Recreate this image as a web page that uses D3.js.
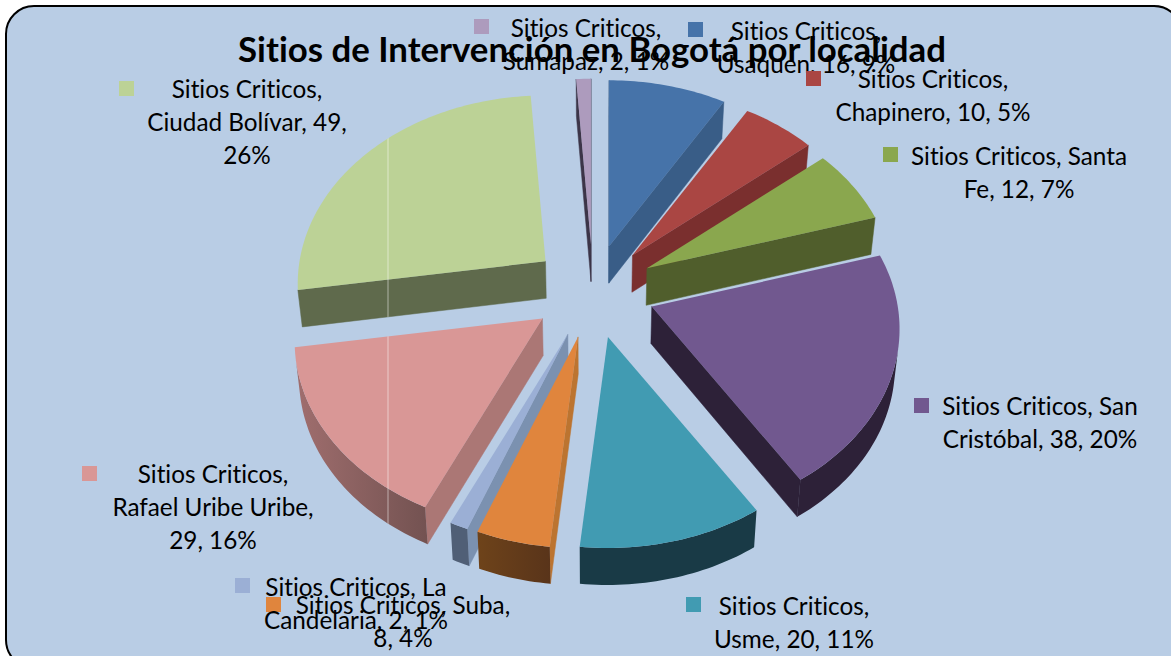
<!DOCTYPE html>
<html>
<head>
<meta charset="utf-8">
<script src="https://cdnjs.cloudflare.com/ajax/libs/d3/7.8.5/d3.min.js"></script>
<style>
  html, body { margin: 0; padding: 0; background: #fff; overflow: hidden; }
  text { font-family: Lato, "Open Sans", sans-serif; fill: #000; font-variant-ligatures: none; }
</style>
</head>
<body>
<div id="chart"></div>
<script>
// data, clockwise from 12 o'clock
const localidades = ["Usaquen", "Chapinero", "Santa Fe", "San Cristóbal", "Usme", "Suba", "La Candelaria", "Rafael Uribe Uribe", "Ciudad Bolívar", "Sumapaz"]
const sitios = [16, 10, 12, 38, 20, 8, 2, 29, 49, 2]
const porcentajes = [9, 5, 7, 20, 11, 4, 1, 16, 26, 1]
const serie = "Sitios Criticos"
const titulo = "Sitios de Intervención en Bogotá por localidad"

// word index where each label wraps
const cortes = [[2], [2], [3], [3], [2], [3], [3], [2, 5], [2, 5], [2]]

// colours
const caraColor = ["#4673a9", "#aa4643", "#8aa74e", "#71588f", "#419bb2", "#e0853d", "#9bafd5", "#d99796", "#bcd296", "#ad9bbd"]
const paredColor = ["#395d87", "#7a2f2e", "#505e2c", "#2d2138", "#193a46", "#bc7430", "#7b91b0", "#ab7775", "#5f6a4c", "#3c3548"]
const bordeIzq = ["#395d87", "#7a2f2e", "#505e2c", "#2d2138", "#193a46", "#6e431a", "#505f76", "#a06e6e", "#5f6a4c", "#3c3548"]
const bordeDer = ["#395d87", "#7a2f2e", "#505e2c", "#2d2138", "#193a46", "#59341a", "#505f76", "#735251", "#5f6a4c", "#3c3548"]

// label placement: [center x, first baseline], legend key [x, y]
const etiquetaPos = [[806, 40], [933, 88], [1019, 165], [1040, 415], [794, 615], [403, 614], [356, 596], [213, 483], [247, 98], [586, 37]]
const clavePos = [[688, 22], [806, 71], [883, 147], [914, 398], [686, 597], [266, 597], [235, 578], [82, 466], [119, 81], [474, 19]]

const width1 = 1171, height1 = 656
const cx = 593, cy = 290      // pie center on screen
const radio = d3.scaleLinear().domain([0, 1]).range([0, 246])
const explode = 62            // how far every slice is pulled out
const tilt = 0.755            // vertical squash of the 3d view
const persp = 0.12            // far side gets smaller
const depth = 37              // slice thickness
const encoge = 0.985          // bottom face converges a little

const svg = d3.select("#chart").append("svg")
  .attr("width", width1)
  .attr("height", height1)

const defs = svg.append("defs")

svg.append("rect")
  .attr("x", 6).attr("y", 6)
  .attr("width", 1176).attr("height", 662)
  .attr("rx", 28).attr("ry", 28)
  .attr("fill", "#b9cde5")
  .attr("stroke", "#000")
  .attr("stroke-width", 2)

// polar offset -> screen offset, perspective taken from its own length
function vector(ang, r) {
  const px = r * Math.sin(ang)
  const py = r * Math.cos(ang)
  const s = 1 / (1 + persp * py / radio(1))
  return [px * s, -tilt * py * s]
}
function proyecta(mid, ang, r) {
  const a = vector(mid, explode)
  const b = vector(ang, r)
  return [cx + a[0] + b[0], cy + a[1] + b[1]]
}
const abajo = p => [cx + (p[0] - cx) * encoge, p[1] + depth]

function area2(pts) {
  let a = 0
  pts.forEach((p, i) => {
    const q = pts[(i + 1) % pts.length]
    a += p[0] * q[1] - q[0] * p[1]
  })
  return a
}

const linea = d3.line().curve(d3.curveLinear)
const cierra = pts => linea(pts) + "Z"
const pie = d3.pie().sort(null).startAngle(0).endAngle(2 * Math.PI)
const arcos = pie(sitios)

const orden = arcos.map((d, i) => i)
  .sort((a, b) => {
    const ma = (arcos[a].startAngle + arcos[a].endAngle) / 2
    const mb = (arcos[b].startAngle + arcos[b].endAngle) / 2
    return Math.cos(mb) - Math.cos(ma)
  })

const seamX = 388 // thin light seam running through the left slices

orden.forEach(i => {
  const d = arcos[i]
  const mid = (d.startAngle + d.endAngle) / 2
  const g = svg.append("g").attr("class", "slice")

  const n = Math.max(2, Math.ceil((d.endAngle - d.startAngle) / 0.02))
  const angs = d3.range(n + 1).map(k => d.startAngle + (d.endAngle - d.startAngle) * k / n)
  const apice = proyecta(mid, 0, 0)
  const rim = angs.map(a => proyecta(mid, a, radio(1)))
  const todos = []

  // straight walls
  const walls = [[apice, rim[0]], [rim[n], apice]]
  walls.forEach(w => {
    const q = [w[0], w[1], abajo(w[1]), abajo(w[0])]
    if (area2(q) < 0) {
      todos.push(q)
      g.append("path").attr("d", cierra(q))
        .attr("fill", paredColor[i]).attr("stroke", paredColor[i]).attr("stroke-width", 0.5)
    }
  })

  // outer wall: the stretch of the rim that faces the viewer, shaded left to right
  const visibles = d3.range(n).filter(k => area2([rim[k], rim[k + 1], abajo(rim[k + 1]), abajo(rim[k])]) < 0)
  if (visibles.length) {
    const tramo = rim.slice(visibles[0], visibles[visibles.length - 1] + 2)
    const q = tramo.concat(tramo.slice().reverse().map(abajo))
    todos.push(q)
    const grad = defs.append("linearGradient").attr("id", "rim" + i)
    grad.append("stop").attr("offset", 0).attr("stop-color", bordeIzq[i])
    grad.append("stop").attr("offset", 1).attr("stop-color", bordeDer[i])
    g.append("path").attr("d", cierra(q)).attr("fill", `url(#rim${i})`)
  }

  // top face
  const cara = [apice].concat(rim)
  todos.push(cara)
  g.append("path").attr("d", cierra(cara)).attr("fill", caraColor[i])

  if (d3.min(rim, p => p[0]) < seamX && d3.max(cara, p => p[0]) > seamX) {
    const clip = g.append("clipPath").attr("id", "clip" + i)
    todos.forEach(q => clip.append("path").attr("d", cierra(q)))
    g.append("line")
      .attr("x1", seamX).attr("x2", seamX)
      .attr("y1", 0).attr("y2", height1)
      .attr("stroke", "#fff").attr("stroke-opacity", 0.5)
      .attr("clip-path", `url(#clip${i})`)
  }
})

// data labels with their little keys
const altoLinea = 33
localidades.forEach((nombre, i) => {
  const palabras = `${serie}, ${nombre}, ${sitios[i]}, ${porcentajes[i]}%`.split(" ")
  const limites = [0].concat(cortes[i], palabras.length)
  const lineas = d3.pairs(limites).map(p => palabras.slice(p[0], p[1]).join(" "))

  svg.append("rect")
    .attr("x", clavePos[i][0]).attr("y", clavePos[i][1])
    .attr("width", 15).attr("height", 15)
    .attr("fill", caraColor[i])

  svg.append("text")
    .attr("text-anchor", "middle")
    .style("font-size", "24.3px")
    .selectAll("tspan")
    .data(lineas)
    .join("tspan")
      .attr("x", etiquetaPos[i][0])
      .attr("y", (l, j) => etiquetaPos[i][1] + j * altoLinea)
      .text(l => l)
})

svg.append("text")
  .attr("x", 592).attr("y", 62)
  .attr("text-anchor", "middle")
  .style("font-size", "34.8px")
  .style("font-weight", "bold")
  .text(titulo)
</script>
</body>
</html>
